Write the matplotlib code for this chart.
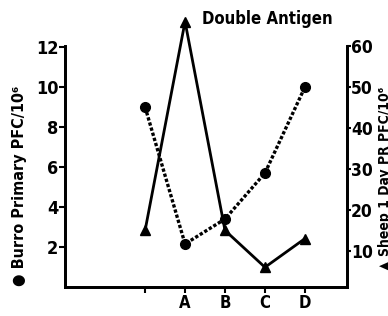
import matplotlib
matplotlib.use("Agg")
from matplotlib import pyplot as plt

# Data
groups = ["", "A", "B", "C", "D"]
burro_primary = [9.0, 2.15, 3.4, 5.7, 10.0]      # left axis, circles
sheep_day1 = [15, 66, 15, 6, 13]                 # right axis, triangles
left_ticks = [2, 4, 6, 8, 10, 12]
right_ticks = [10, 20, 30, 40, 50, 60]

plt.rcParams["font.family"] = ["DejaVu Sans"]
plt.rcParams["font.stretch"] = "condensed"
plt.rcParams["font.weight"] = "bold"
plt.rcParams["axes.labelweight"] = "bold"

fig = plt.figure(figsize=(3.88, 3.16), dpi=100)
ax = fig.add_axes([0.168, 0.092, 0.726, 0.762])
ax2 = ax.twinx()

x = list(range(len(groups)))

ax.plot(x, burro_primary, color="black", linestyle=(0, (1, 0.6)), linewidth=2.4,
        marker="o", markersize=7, clip_on=False, zorder=3)
ax2.plot(x, sheep_day1, color="black", linestyle="-", linewidth=2,
         marker="^", markersize=7, clip_on=False, zorder=3)

ax.set_xlim(-2, 5.05)
ax.set_ylim(0, 12.05)
ax2.set_ylim(1.2, 60)

ax.set_xticks(x)
ax.set_xticklabels(groups, fontsize=12)
ax.set_yticks(left_ticks)
ax.set_yticklabels([str(t) for t in left_ticks], fontsize=13)
ax2.set_yticks(right_ticks)
ax2.set_yticklabels([str(t) for t in right_ticks], fontsize=12.5)

for a in (ax, ax2):
    a.spines["top"].set_visible(False)
    for s in a.spines.values():
        s.set_linewidth(2)
ax.tick_params(axis="both", direction="out", length=4, width=1.5, pad=1)
ax2.tick_params(axis="y", direction="out", length=3, width=1.5, pad=0)

ax.set_ylabel("● Burro Primary PFC/10⁶", fontsize=11.5, fontweight="bold")
ax.yaxis.set_label_coords(-0.135, 0.42)
ax2.set_ylabel("▲ Sheep 1 Day PR PFC/10⁶", fontsize=10, fontweight="bold")
ax2.yaxis.set_label_coords(1.112, 0.45)

fig.text(0.69, 0.94, "Double Antigen", fontsize=12, ha="center", va="center")

fig.savefig("out.png", dpi=100)
